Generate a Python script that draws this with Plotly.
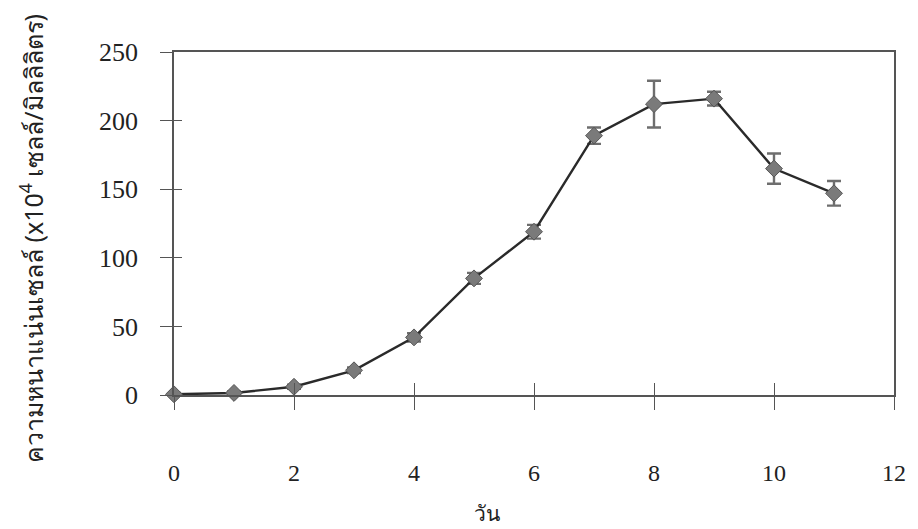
import plotly.graph_objects as go

# Cell density over culture time
days = [0, 1, 2, 3, 4, 5, 6, 7, 8, 9, 10, 11]
density = [0.5, 1.5, 6, 18, 42, 85, 119, 189, 212, 216, 165, 147]
density_sd = [1, 1, 1.5, 2, 3, 4, 5, 6, 17, 5, 11, 9]

x_ticks = [0, 2, 4, 6, 8, 10, 12]
y_ticks = [0, 50, 100, 150, 200, 250]

serif = "Liberation Serif, Times New Roman, serif"
thai = "Noto Sans, DejaVu Sans, sans-serif"

fig = go.Figure()

fig.add_trace(go.Scatter(
    x=days, y=density,
    mode="lines+markers",
    line=dict(color="#2a2a2a", width=2.4),
    marker=dict(symbol="diamond", size=13, color="#7a7a7a",
                line=dict(color="#555555", width=1)),
    error_y=dict(type="data", array=density_sd, visible=True,
                 color="#6e6e6e", thickness=2.4, width=7),
    cliponaxis=False,
    showlegend=False,
))

# second axis pair for the inner half of the cross ticks
fig.add_trace(go.Scatter(x=[None], y=[None], xaxis="x2", yaxis="y2",
                         showlegend=False, hoverinfo="skip"))

axis_line = "#555555"

# axis titles placed as annotations
fig.add_annotation(
    text="ความหนาแน่นเซลล์ (x10<sup>4</sup> เซลล์/มิลลิลิตร)",
    xref="paper", yref="paper", x=-0.197, y=0.455,
    xanchor="center", yanchor="middle", textangle=-90, showarrow=False,
    font=dict(family=thai, size=25, color="#222222"),
)
fig.add_annotation(
    text="วัน", xref="paper", yref="paper", x=0.435, y=-0.344,
    xanchor="center", yanchor="middle", showarrow=False,
    font=dict(family=thai, size=21, color="#222222"),
)

fig.update_layout(
    width=918, height=529,
    margin=dict(l=174, r=16, t=52, b=134),
    paper_bgcolor="white",
    plot_bgcolor="rgba(0,0,0,0)",
    xaxis=dict(
        range=[0, 12], tickvals=x_ticks, ticks="outside", ticklen=13,
        tickcolor=axis_line, tickwidth=1.2,
        showline=True, linecolor=axis_line, linewidth=1.5, mirror=True,
        showgrid=False, zeroline=False,
        ticklabelstandoff=42,
        tickfont=dict(family=serif, size=24, color="#222222"),
    ),
    yaxis=dict(
        range=[0, 250], tickvals=y_ticks, ticks="outside", ticklen=12,
        tickcolor=axis_line, tickwidth=1.2,
        showline=True, linecolor=axis_line, linewidth=1.5, mirror=True,
        showgrid=False, zeroline=False,
        ticklabelstandoff=17,
        tickfont=dict(family=serif, size=26, color="#222222"),
    ),
    xaxis2=dict(
        overlaying="x", matches="x", range=[0, 12], tickvals=x_ticks,
        ticks="inside", ticklen=12, tickcolor=axis_line, tickwidth=1.2,
        showticklabels=False, showgrid=False, zeroline=False, showline=False,
        side="bottom",
    ),
    yaxis2=dict(
        overlaying="y", matches="y", range=[0, 250], tickvals=y_ticks,
        ticks="inside", ticklen=8, tickcolor=axis_line, tickwidth=1.2,
        showticklabels=False, showgrid=False, zeroline=False, showline=False,
        side="left",
    ),
)

fig.write_html("out.html")
